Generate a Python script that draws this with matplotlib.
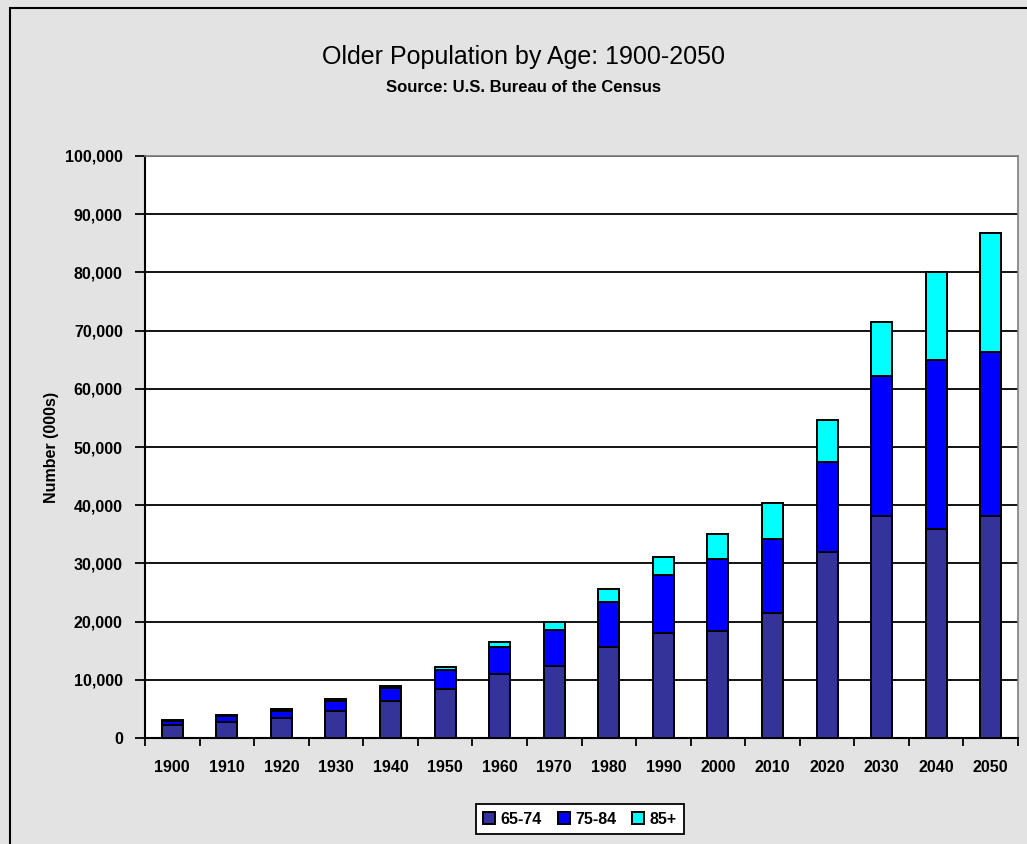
import matplotlib.pyplot as plt
from matplotlib.patches import Rectangle
from matplotlib.ticker import FuncFormatter, FixedLocator

# Older population by age group, thousands
years = ['1900', '1910', '1920', '1930', '1940', '1950', '1960', '1970',
         '1980', '1990', '2000', '2010', '2020', '2030', '2040', '2050']
age_65_74 = [2187, 2793, 3464, 4721, 6376, 8415, 10997, 12447,
             15581, 18045, 18391, 21500, 32000, 38200, 35900, 38200]
age_75_84 = [772, 989, 1259, 1641, 2278, 3278, 4633, 6124,
             7729, 10012, 12361, 12700, 15500, 24000, 29000, 28100]
age_85_up = [122, 167, 210, 272, 365, 577, 929, 1409,
             2240, 3021, 4240, 6100, 7100, 9300, 15100, 20500]
groups = ['65-74', '75-84', '85+']
colors = ['#333399', '#0000FF', '#00FFFF']

plt.rcParams['font.family'] = ['Liberation Sans Narrow', 'Liberation Sans', 'DejaVu Sans']

fig = plt.figure(figsize=(10.27, 8.44), dpi=100, facecolor='#E3E3E3')
ax = fig.add_axes([145 / 1027, 1 - 738 / 844, 873 / 1027, 582 / 844])
ax.set_facecolor('white')

# outer chart frame
fig.patches.append(Rectangle((10 / 1027, -0.05), 1.1, 1 - 8 / 844 + 0.05,
                             transform=fig.transFigure, fill=False,
                             edgecolor='black', linewidth=1.5))

x = list(range(len(years)))
bottom = [0] * len(years)
for name, vals, col in zip(groups, [age_65_74, age_75_84, age_85_up], colors):
    ax.bar(x, vals, width=0.385, bottom=bottom, color=col, edgecolor='black',
           linewidth=1.4, label=name, zorder=3)
    bottom = [b + v for b, v in zip(bottom, vals)]

ax.set_xlim(-0.5, len(years) - 0.5)
ax.set_ylim(0, 100000)
ax.set_yticks(range(0, 100001, 10000))
ax.yaxis.set_major_formatter(FuncFormatter(lambda v, p: f'{int(v):,}'))
ax.grid(axis='y', color='black', linewidth=1.3, zorder=1)

# category ticks sit between bars, labels under bars
ax.xaxis.set_major_locator(FixedLocator([i - 0.5 for i in range(len(years) + 1)]))
ax.xaxis.set_major_formatter(FuncFormatter(lambda v, p: ''))
ax.xaxis.set_minor_locator(FixedLocator(x))
ax.set_xticklabels(years, minor=True)
ax.tick_params(axis='x', which='minor', length=0, pad=16, labelsize=11.5)
ax.tick_params(axis='x', which='major', length=6, width=1.3, direction='out')
ax.tick_params(axis='y', length=7, width=1.3, direction='out', pad=9, labelsize=11.5)
for lbl in ax.get_xticklabels(minor=True) + ax.get_yticklabels():
    lbl.set_fontweight('bold')

for side in ['left', 'bottom']:
    ax.spines[side].set_color('black')
    ax.spines[side].set_linewidth(1.5)
for side in ['top', 'right']:
    ax.spines[side].set_color('#808080')
    ax.spines[side].set_linewidth(1.2)

ax.set_ylabel('Number (000s)', fontsize=11.5, fontweight='bold', labelpad=4)

fig.text(523 / 1027, 1 - 57 / 844, 'Older Population by Age: 1900-2050',
         ha='center', va='center', fontsize=18)
fig.text(523 / 1027, 1 - 87 / 844, 'Source: U.S. Bureau of the Census',
         ha='center', va='center', fontsize=12, fontweight='bold')

leg = fig.legend(loc='center', bbox_to_anchor=(580 / 1027, 1 - 819 / 844), ncol=3,
                 frameon=True, fancybox=False, edgecolor='black', framealpha=1,
                 handlelength=0.75, handleheight=0.75, handletextpad=0.35,
                 columnspacing=1.0, borderpad=0.45,
                 prop={'weight': 'bold', 'size': 11.5})
leg.get_frame().set_linewidth(1.3)

fig.savefig('out.png', dpi=100, facecolor=fig.get_facecolor())
